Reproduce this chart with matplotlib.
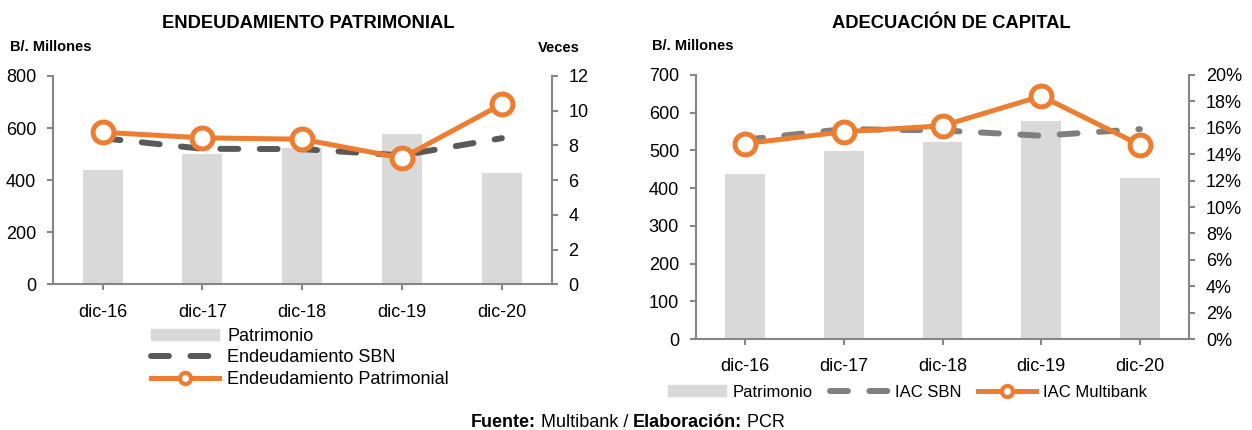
import matplotlib
matplotlib.use("Agg")
import matplotlib.pyplot as plt
from matplotlib.ticker import MultipleLocator, PercentFormatter
from matplotlib.lines import Line2D
from matplotlib.patches import Patch

plt.rcParams['font.family'] = ['Liberation Sans', 'DejaVu Sans']

# datos
periodos = ["dic-16", "dic-17", "dic-18", "dic-19", "dic-20"]
patrimonio = [438, 499, 522, 578, 428]
endeud_sbn = [8.42, 7.81, 7.79, 7.43, 8.42]
endeud_multibank = [8.76, 8.44, 8.36, 7.28, 10.38]
iac_sbn = [15.1, 15.9, 15.8, 15.4, 15.9]
iac_multibank = [14.8, 15.7, 16.15, 18.4, 14.7]

BAR = "#d9d9d9"
ORANGE = "#ed7d31"
SPINE = "#868686"
FS = 13

fig = plt.figure(figsize=(12.52, 4.30), dpi=100)
ax1 = fig.add_axes([0.0421, 0.3384, 0.3986, 0.4849])
ax2 = fig.add_axes([0.5557, 0.2116, 0.3942, 0.6140])


def style(ax, twin):
    for a in (ax, twin):
        for s in a.spines.values():
            s.set_color(SPINE)
            s.set_linewidth(1.5)
        a.spines['top'].set_visible(False)
        a.tick_params(axis='both', colors=SPINE, labelcolor='black',
                      labelsize=FS, length=4, width=1.5, pad=8)
    ax.spines['right'].set_visible(False)
    twin.spines['left'].set_visible(False)
    twin.spines['bottom'].set_visible(False)
    ax.tick_params(axis='x', pad=10)


x = range(len(periodos))

# ---- Endeudamiento patrimonial
t1 = ax1.twinx()
ax1.bar(x, patrimonio, width=0.4, color=BAR, zorder=1)
t1.plot(x, endeud_sbn, color="#595959", lw=4.3, ls=(0, (3, 3.6)),
        dash_capstyle='round', zorder=2)
t1.plot(x, endeud_multibank, color=ORANGE, lw=3.6, marker='o', ms=15,
        mfc='white', mec=ORANGE, mew=3.6, zorder=3)
ax1.set_ylim(0, 800)
ax1.yaxis.set_major_locator(MultipleLocator(200))
t1.set_ylim(0, 12)
t1.yaxis.set_major_locator(MultipleLocator(2))
ax1.set_xlim(-0.5, 4.5)
ax1.set_xticks(list(x))
ax1.set_xticklabels(periodos)
style(ax1, t1)

h1 = [Patch(color=BAR),
      Line2D([], [], color="#595959", lw=4.3, ls=(0, (3, 3.6)), dash_capstyle='round'),
      Line2D([], [], color=ORANGE, lw=3.6, marker='o', ms=8, mfc='white',
             mec=ORANGE, mew=3)]
fig.legend(h1, ["Patrimonio", "Endeudamiento SBN", "Endeudamiento Patrimonial"],
           loc='upper left', bbox_to_anchor=(0.113, 0.259), frameon=False,
           fontsize=FS, handlelength=3.8, handleheight=0.6, handletextpad=0.45,
           labelspacing=0.25, borderpad=0)

# ---- Adecuacion de capital
t2 = ax2.twinx()
ax2.bar(x, patrimonio, width=0.4, color=BAR, zorder=1)
t2.plot(x, iac_sbn, color="#7f7f7f", lw=4.3, ls=(0, (3, 3.6)),
        dash_capstyle='round', zorder=2)
t2.plot(x, iac_multibank, color=ORANGE, lw=3.6, marker='o', ms=15,
        mfc='white', mec=ORANGE, mew=3.6, zorder=3)
ax2.set_ylim(0, 700)
ax2.yaxis.set_major_locator(MultipleLocator(100))
t2.set_ylim(0, 20)
t2.yaxis.set_major_locator(MultipleLocator(2))
t2.yaxis.set_major_formatter(PercentFormatter(decimals=0))
ax2.set_xlim(-0.5, 4.5)
ax2.set_xticks(list(x))
ax2.set_xticklabels(periodos)
style(ax2, t2)

h2 = [Patch(color=BAR),
      Line2D([], [], color="#7f7f7f", lw=4.3, ls=(0, (3, 3.6)), dash_capstyle='round'),
      Line2D([], [], color=ORANGE, lw=3.6, marker='o', ms=8, mfc='white',
             mec=ORANGE, mew=3)]
fig.legend(h2, ["Patrimonio", "IAC SBN", "IAC Multibank"], ncol=3,
           loc='center left', bbox_to_anchor=(0.5265, 0.088), frameon=False,
           fontsize=12, handlelength=3.5, handleheight=0.6, handletextpad=0.42,
           columnspacing=1.0, borderpad=0)

# textos
fig.text(0.246, 0.9465, "ENDEUDAMIENTO PATRIMONIAL", ha='center', va='center',
         fontsize=13.2, fontweight='bold')
fig.text(0.7596, 0.9465, "ADECUACIÓN DE CAPITAL", ha='center', va='center',
         fontsize=13.2, fontweight='bold')
fig.text(0.008, 0.891, "B/. Millones", ha='left', va='center', fontsize=10.5,
         fontweight='bold')
fig.text(0.430, 0.888, "Veces", ha='left', va='center', fontsize=10.5,
         fontweight='bold')
fig.text(0.521, 0.893, "B/. Millones", ha='left', va='center', fontsize=10.5,
         fontweight='bold')

# fuente: piezas en negrita y normal, centradas juntas
piezas = [("Fuente:", 'bold'), (" Multibank / ", 'normal'),
          ("Elaboración:", 'bold'), (" PCR", 'normal')]
renderer = fig.canvas.get_renderer()
objs = []
for s, w in piezas:
    t = fig.text(0, 0.018, s, ha='left', va='center', fontsize=13, fontweight=w)
    objs.append(t)
widths = [o.get_window_extent(renderer).width for o in objs]
W = fig.get_figwidth() * fig.dpi
xpos = 628 - sum(widths) / 2
for o, w in zip(objs, widths):
    o.set_x(xpos / W)
    xpos += w

fig.savefig("out.png", dpi=100)
